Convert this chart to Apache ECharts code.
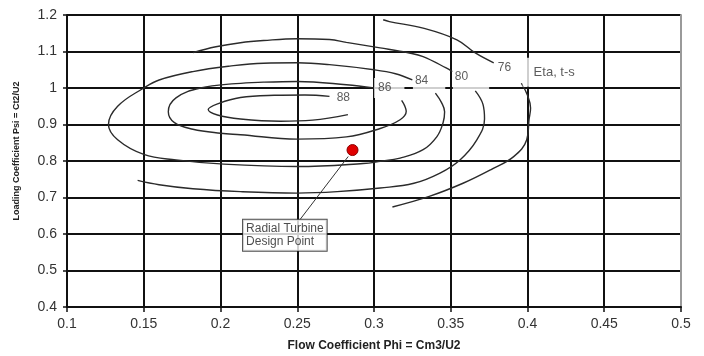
<!DOCTYPE html>
<html>
<head>
<meta charset="utf-8">
<script src="https://cdn.jsdelivr.net/npm/echarts@6/dist/echarts.min.js"></script>
<style>
html,body{margin:0;padding:0;background:#ffffff;}
#chart{width:704px;height:356px;}
</style>
</head>
<body>
<div id="chart"></div>
<script>
// ---- axis ticks ----
const xTickValues = [0.1, 0.15, 0.2, 0.25, 0.3, 0.35, 0.4, 0.45, 0.5];
const yTickValues = [0.4, 0.5, 0.6, 0.7, 0.8, 0.9, 1.0, 1.1, 1.2];
const xTitle = 'Flow Coefficient Phi = Cm3/U2';
const yTitle = 'Loading Coefficient Psi = Ct2/U2';

// ---- contour lines of Eta, t-s (phi, psi) ----
const eta88 = [[0.271,0.977],[0.255,0.981],[0.235,0.980],[0.213,0.974],[0.199,0.958],[0.192,0.941],[0.198,0.926],[0.213,0.915],[0.239,0.909],[0.260,0.912],[0.283,0.927]];
const eta86 = [[0.300,1.000],[0.282,1.009],[0.250,1.018],[0.228,1.016],[0.210,1.012],[0.187,1.000],[0.171,0.973],[0.166,0.935],[0.170,0.905],[0.182,0.887],[0.200,0.876],[0.213,0.872],[0.250,0.860],[0.282,0.866],[0.304,0.889],[0.317,0.913],[0.321,0.936],[0.320,0.951],[0.318,0.966]];
const eta84 = [[0.325,1.022],[0.314,1.039],[0.300,1.050],[0.271,1.064],[0.250,1.069],[0.228,1.068],[0.206,1.060],[0.182,1.045],[0.160,1.022],[0.150,1.000],[0.133,0.950],[0.127,0.900],[0.133,0.858],[0.150,0.818],[0.171,0.803],[0.200,0.792],[0.250,0.785],[0.293,0.793],[0.304,0.799],[0.317,0.808],[0.332,0.831],[0.341,0.867],[0.345,0.905],[0.346,0.935],[0.344,0.960],[0.340,0.986]];
const eta80Upper = [[0.182,1.097],[0.197,1.113],[0.213,1.124],[0.228,1.130],[0.250,1.135],[0.271,1.133],[0.282,1.125],[0.304,1.110],[0.323,1.096],[0.332,1.086],[0.347,1.055],[0.351,1.045]];
const eta80Lower = [[0.366,0.992],[0.371,0.955],[0.372,0.915],[0.367,0.858],[0.356,0.803],[0.343,0.767],[0.326,0.739],[0.304,0.726],[0.276,0.716],[0.250,0.712],[0.213,0.716],[0.182,0.724],[0.160,0.735],[0.146,0.747]];
const eta76Upper = [[0.306,1.187],[0.310,1.182],[0.332,1.164],[0.354,1.132],[0.366,1.096],[0.378,1.069]];
const eta76Lower = [[0.396,1.013],[0.400,0.980],[0.402,0.945],[0.401,0.913],[0.3995,0.858],[0.391,0.812],[0.376,0.776],[0.358,0.739],[0.336,0.703],[0.312,0.674]];

// ---- contour labels: [phi, psi, text] ----
const contourLabels = [[0.280,0.974,'88'],[0.307,1.000,'86'],[0.331,1.022,'84'],[0.357,1.041,'80'],[0.385,1.055,'76'],[0.4174,1.0636,'Eta, t-s']];

// ---- design point and its callout ----
const designPoint = [0.286, 0.830];
const arrowStart = [0.2517, 0.639];
const arrowEnd = [0.2832, 0.8123];
const noteAnchor = [0.2147, 0.639];
const noteText = 'Radial Turbine\nDesign Point';

// ---- styles (not data) ----
const FONT = 'Liberation Sans';
const labelBox = {
  '88': {padding:[1,2,1,2]},
  '86': {padding:[3,13,3,4]},
  '84': {padding:[2,17,3,2]},
  '80': {padding:[2,21,10,2]},
  '76': {padding:[2,3,2,3]},
  'Eta, t-s': {padding:[0,4,15,11], fontSize:13}
};

const contourStyle = {color:'#2b2b2b', width:1.4};
function contour(data) {
  return {type:'line', data: data, smooth: 0.4, symbol:'none', silent:true,
          lineStyle: contourStyle, z: 3, animation:false};
}

const labelData = contourLabels.map(function (d) {
  const box = labelBox[d[2]];
  const p = box.padding;
  return {
    value:[d[0], d[1]], name: d[2],
    label: {
      padding: p,
      fontSize: box.fontSize || 12,
      offset: [(p[1]-p[3])/2, (p[2]-p[0])/2]
    }
  };
});

function tickText(v) { return String(parseFloat(Number(v).toFixed(2))); }

const chart = echarts.init(document.getElementById('chart'), null, {renderer:'canvas'});
const option = {
  backgroundColor:'#ffffff',
  animation:false,
  grid:{left:67, right:23, top:15, bottom:49, containLabel:false, outerBoundsMode:'none'},
  xAxis:{
    type:'value', min:xTickValues[0], max:xTickValues[xTickValues.length-1],
    interval:0.05,
    axisLine:{show:true, onZero:false, lineStyle:{color:'#111', width:2}},
    axisTick:{show:true, length:5, lineStyle:{color:'#111', width:1.5}},
    axisLabel:{fontSize:14, color:'#333', margin:10, fontFamily:FONT, showMinLabel:true, showMaxLabel:true, formatter:tickText},
    splitLine:{show:true, showMinLine:true, showMaxLine:false, lineStyle:{color:'#111', width:2}},
    name:xTitle, nameLocation:'middle', nameGap:33,
    nameTextStyle:{fontWeight:'bold', fontSize:12, color:'#222', fontFamily:FONT}
  },
  yAxis:[{
    type:'value', min:yTickValues[0], max:yTickValues[yTickValues.length-1],
    interval:0.1,
    axisLine:{show:true, onZero:false, lineStyle:{color:'#111', width:2}},
    axisTick:{show:true, length:4, lineStyle:{color:'#111', width:1.5}},
    axisLabel:{fontSize:14, color:'#333', margin:10, fontFamily:FONT, showMinLabel:true, showMaxLabel:true, formatter:tickText},
    splitLine:{show:true, lineStyle:{color:'#111', width:2}}
  },{
    type:'value', position:'right', min:yTickValues[0], max:yTickValues[yTickValues.length-1],
    interval:0.1,
    axisLine:{show:true, onZero:false, lineStyle:{color:'#9a9a9a', width:2}},
    axisTick:{show:false}, axisLabel:{show:false}, splitLine:{show:false}
  }],
  graphic:[{
    type:'text', x:17, y:151, rotation:Math.PI/2,
    style:{text:yTitle, fill:'#222', font:'bold 9px "Liberation Sans"', align:'center', verticalAlign:'middle'}
  }],
  series:[
    contour(eta88), contour(eta86), contour(eta84),
    contour(eta80Upper), contour(eta80Lower),
    contour(eta76Upper), contour(eta76Lower),
    {
      type:'scatter', symbolSize:0, silent:true, z:5, animation:false,
      data: labelData,
      label:{show:true, position:'inside', formatter:'{b}', color:'#333', fontFamily:FONT,
             backgroundColor:'#ffffff', lineHeight:14},
      emphasis:{disabled:true}
    },
    {
      type:'scatter', symbolSize:11, silent:true, z:7, animation:false,
      data:[designPoint],
      itemStyle:{color:'#e00000', borderColor:'#8a0000', borderWidth:1, opacity:1},
      emphasis:{disabled:true},
      markLine:{
        silent:true, animation:false, symbol:['none','arrow'], symbolSize:[0,7],
        label:{show:false},
        lineStyle:{color:'#333', width:1, type:'solid'},
        data:[[{coord:arrowStart},{coord:arrowEnd}]]
      }
    },
    {
      type:'scatter', symbolSize:0, silent:true, z:6, animation:false,
      data:[{value:noteAnchor, name:noteText}],
      label:{show:true, position:[0,0], align:'left', verticalAlign:'top', formatter:'{b}',
             fontSize:12, lineHeight:13, color:'#222', fontFamily:FONT,
             backgroundColor:'#ffffff', borderColor:'#222', borderWidth:1, padding:[2,3,3,3]},
      emphasis:{disabled:true}
    }
  ]
};
chart.setOption(option);
</script>
</body>
</html>
